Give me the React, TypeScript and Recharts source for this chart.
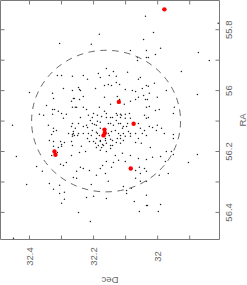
import React from 'react';
import { ScatterChart, Scatter, XAxis, YAxis, Label, ReferenceArea, ReferenceLine } from 'recharts';

// Axis domains (Dec increases to the left, RA increases downward)
const DEC_DOMAIN: [number, number] = [31.807, 32.4905];
const RA_DOMAIN: [number, number] = [55.704, 56.489];
const decTicks = [31.9, 32.0, 32.1, 32.2, 32.3, 32.4];
const decLabelTicks = [32.4, 32.2, 32.0];
const raTicks = [55.8, 55.9, 56.0, 56.1, 56.2, 56.3, 56.4];
const raLabelTicks = [55.8, 56.0, 56.2, 56.4];

// Field stars: [Dec, RA]
const fieldStars: [number, number][] = [
  [32.306, 55.845], [32.313, 55.95], [32.3, 55.95], [32.266, 55.953], [32.4, 56.006],
  [32.294, 55.993], [32.266, 56.0], [32.328, 56.009], [32.325, 56.026], [32.269, 56.035],
  [32.26, 56.026], [32.347, 56.049], [32.328, 56.062], [32.322, 56.062], [32.31, 56.068],
  [32.266, 56.055], [32.257, 56.055], [32.369, 56.078], [32.356, 56.081], [32.328, 56.078],
  [32.3, 56.075], [32.285, 56.078], [32.294, 56.091], [32.038, 55.756], [32.182, 55.815],
  [32.044, 55.832], [32.207, 55.848], [32.085, 55.868], [32.035, 55.868], [32.063, 55.901],
  [32.063, 55.891], [32.035, 55.891], [32.185, 55.944], [32.16, 55.927], [32.138, 55.937],
  [32.094, 55.94], [32.232, 55.95], [32.219, 55.963], [32.179, 55.957], [32.151, 55.95],
  [32.129, 55.953], [32.06, 55.963], [32.054, 55.957], [32.247, 55.99], [32.244, 55.996],
  [32.241, 56.0], [32.166, 55.983], [32.154, 55.98], [32.144, 55.983], [32.129, 55.973],
  [32.119, 55.98], [32.194, 55.993], [32.101, 55.996], [32.079, 56.0], [32.069, 56.003],
  [32.048, 55.993], [32.035, 55.983], [32.263, 56.026], [32.244, 56.029], [32.232, 56.019],
  [32.166, 56.022], [32.126, 56.019], [32.119, 56.029], [32.085, 56.035], [32.069, 56.029],
  [32.06, 56.022], [32.044, 56.016], [32.038, 56.029], [32.147, 56.045], [32.104, 56.045],
  [32.253, 56.055], [32.232, 56.055], [32.222, 56.062], [32.182, 56.055], [32.035, 56.055],
  [32.2, 56.075], [32.216, 56.081], [32.204, 56.088], [32.166, 56.068], [32.16, 56.075],
  [32.147, 56.088], [32.16, 56.088], [32.129, 56.075], [32.113, 56.081], [32.101, 56.078],
  [32.088, 56.075], [32.085, 56.091], [32.101, 56.091], [32.116, 56.088], [32.041, 56.081],
  [32.035, 56.091], [32.241, 56.088], [32.013, 55.809], [31.811, 55.779], [31.991, 55.861],
  [32.007, 55.881], [31.873, 55.875], [31.839, 55.901], [32.029, 55.891], [31.926, 55.937],
  [32.01, 55.976], [32.029, 55.986], [31.973, 56.0], [31.876, 56.013], [32.026, 56.009],
  [32.001, 56.022], [32.032, 56.029], [32.026, 56.052], [32.007, 56.065], [31.995, 56.062],
  [31.948, 56.055], [31.951, 56.075], [32.029, 56.088], [32.453, 56.114], [32.341, 56.114],
  [32.325, 56.124], [32.325, 56.134], [32.331, 56.144], [32.316, 56.131], [32.266, 56.108],
  [32.269, 56.118], [32.278, 56.141], [32.266, 56.144], [32.263, 56.141], [32.26, 56.147],
  [32.266, 56.15], [32.338, 56.164], [32.325, 56.167], [32.303, 56.167], [32.291, 56.17],
  [32.269, 56.167], [32.3, 56.177], [32.3, 56.183], [32.266, 56.18], [32.325, 56.183],
  [32.31, 56.187], [32.313, 56.203], [32.331, 56.213], [32.269, 56.213], [32.441, 56.216],
  [32.378, 56.249], [32.36, 56.265], [32.303, 56.242], [32.294, 56.246], [32.285, 56.236],
  [32.263, 56.285], [32.409, 56.308], [32.338, 56.305], [32.325, 56.324], [32.306, 56.311],
  [32.291, 56.334], [32.306, 56.338], [32.291, 56.357], [32.3, 56.37], [32.45, 56.485],
  [32.247, 56.108], [32.257, 56.124], [32.263, 56.134], [32.247, 56.141], [32.25, 56.147],
  [32.232, 56.118], [32.222, 56.114], [32.21, 56.098], [32.197, 56.111], [32.188, 56.101],
  [32.204, 56.131], [32.191, 56.137], [32.179, 56.124], [32.182, 56.147], [32.216, 56.141],
  [32.207, 56.147], [32.219, 56.157], [32.2, 56.167], [32.213, 56.167], [32.191, 56.157],
  [32.179, 56.167], [32.172, 56.177], [32.185, 56.18], [32.191, 56.187], [32.179, 56.196],
  [32.175, 56.187], [32.163, 56.164], [32.16, 56.173], [32.147, 56.16], [32.151, 56.147],
  [32.144, 56.134], [32.138, 56.114], [32.147, 56.108], [32.129, 56.098], [32.116, 56.108],
  [32.132, 56.131], [32.122, 56.141], [32.11, 56.124], [32.107, 56.141], [32.097, 56.118],
  [32.091, 56.134], [32.101, 56.15], [32.085, 56.15], [32.116, 56.157], [32.129, 56.17],
  [32.141, 56.18], [32.147, 56.19], [32.16, 56.2], [32.06, 56.108], [32.054, 56.124],
  [32.041, 56.131], [32.048, 56.141], [32.035, 56.147], [32.06, 56.157], [32.069, 56.17],
  [32.051, 56.173], [32.069, 56.141], [32.238, 56.183], [32.225, 56.2], [32.244, 56.203],
  [32.11, 56.206], [32.085, 56.213], [32.132, 56.213], [32.16, 56.233], [32.138, 56.236],
  [32.122, 56.229], [32.101, 56.233], [32.06, 56.223], [32.035, 56.226], [32.241, 56.252],
  [32.253, 56.265], [32.232, 56.256], [32.213, 56.262], [32.179, 56.256], [32.172, 56.246],
  [32.144, 56.252], [32.163, 56.272], [32.191, 56.278], [32.154, 56.298], [32.069, 56.262],
  [32.057, 56.252], [32.041, 56.256], [32.054, 56.272], [32.035, 56.265], [32.069, 56.288],
  [32.054, 56.298], [32.035, 56.298], [32.253, 56.288], [32.207, 56.308], [32.107, 56.315],
  [32.097, 56.328], [32.082, 56.321], [32.222, 56.351], [32.2, 56.347], [32.16, 56.354],
  [32.097, 56.338], [32.073, 56.364], [32.057, 56.397], [32.035, 56.377], [32.247, 56.4],
  [32.21, 56.43], [32.026, 56.118], [32.016, 56.121], [32.001, 56.114], [31.988, 56.124],
  [32.004, 56.131], [31.979, 56.141], [31.951, 56.144], [31.951, 56.157], [32.023, 56.187],
  [31.973, 56.2], [31.957, 56.2], [31.951, 56.21], [32.016, 56.219], [31.991, 56.216],
  [31.976, 56.233], [31.876, 56.21], [31.904, 56.236], [31.967, 56.272], [31.995, 56.278],
  [32.035, 56.344], [32.032, 56.377], [31.991, 56.374], [31.998, 56.397], [32.188, 56.081],
  [32.175, 56.085], [32.141, 56.088], [32.126, 56.081], [32.116, 56.078], [32.219, 56.121],
  [32.204, 56.108], [32.191, 56.114], [32.179, 56.104], [32.154, 56.108], [32.122, 56.108],
  [32.107, 56.118], [32.094, 56.108], [32.232, 56.141], [32.188, 56.141], [32.154, 56.141],
  [32.116, 56.147], [32.085, 56.141], [32.179, 56.164], [32.163, 56.157], [32.141, 56.164],
  [32.126, 56.157], [32.107, 56.164], [32.194, 56.173], [32.169, 56.18], [32.147, 56.18],
  [32.116, 56.173],
];

// Highlighted members: [Dec, RA]
const members: [number, number][] = [
  [31.979, 55.733], [32.121, 56.037], [32.075, 56.109], [32.166, 56.128], [32.165, 56.139],
  [32.169, 56.147], [32.322, 56.2], [32.319, 56.211], [32.084, 56.256],
];

// Dashed circle: centre [Dec, RA] and radius (deg)
const circleCenter: [number, number] = [32.161, 56.1];
const circleRadius = 0.2325;

const toPts = (arr: [number, number][]) => arr.map(([dec, ra]) => ({ dec, ra }));
const starData = toPts(fieldStars);
const memberData = toPts(members);
const ringData = toPts([circleCenter]);

const W = 247;
const H = 285;
const M_TOP = 0.5;
const M_LEFT = 0.5;
const BOTTOM_AXIS_H = 45.5;
const RIGHT_AXIS_W = 27.5;
const PLOT_W = W - M_LEFT - RIGHT_AXIS_W;
const PLOT_H = H - M_TOP - BOTTOM_AXIS_H;

const AXIS = '#7a7a7a';
const TEXT = '#666';
const FONT = '"Liberation Sans", Arial, Helvetica, sans-serif';
const FS = 9.5;
const TL = 4; // tick length, px
const DEC_PER_PX = (DEC_DOMAIN[1] - DEC_DOMAIN[0]) / PLOT_W;
const RA_PER_PX = (RA_DOMAIN[1] - RA_DOMAIN[0]) / PLOT_H;

const isLabeled = (list: number[], v: number) => list.some((t) => Math.abs(t - v) < 1e-6);

const BottomTick = (p: any) => {
  const { x, y, payload } = p;
  const v = payload.value;
  if (!isLabeled(decLabelTicks, v)) return <g />;
  return (
    <text transform={`translate(${x + 3.4},${y + 17}) rotate(-90)`} textAnchor="middle" fontSize={FS} fill={TEXT} fontFamily={FONT}>
      {String(v)}
    </text>
  );
};
const RightTick = (p: any) => {
  const { x, y, payload } = p;
  const v = payload.value;
  if (!isLabeled(raLabelTicks, v)) return <g />;
  return (
    <text transform={`translate(${x + 12.5},${y}) rotate(-90)`} textAnchor="middle" fontSize={FS} fill={TEXT} fontFamily={FONT}>
      {String(v)}
    </text>
  );
};

const StarDot = (p: any) => <circle cx={p.cx} cy={p.cy} r={0.75} fill="#222" />;
const MemberDot = (p: any) => <circle cx={p.cx} cy={p.cy} r={2.2} fill="#ff0000" />;
const Ring = (p: any) => (
  <ellipse cx={p.cx} cy={p.cy}
    rx={circleRadius / DEC_PER_PX}
    ry={circleRadius / RA_PER_PX}
    fill="none" stroke="#6a6a6a" strokeWidth={1} strokeDasharray="6.5 5.5" />
);

export default function App() {
  const ids = { xAxisId: 'b', yAxisId: 'r' } as const;
  return (
    <div style={{ position: 'absolute', left: 0, top: 0, width: W, height: H, background: '#fff' }}>
      <ScatterChart width={W} height={H} margin={{ top: M_TOP, left: M_LEFT, right: 0, bottom: 0 }}>
        <XAxis xAxisId="b" type="number" dataKey="dec" domain={DEC_DOMAIN} allowDataOverflow reversed ticks={decTicks} interval={0}
          orientation="bottom" height={BOTTOM_AXIS_H} axisLine={false} tickLine={false} tickSize={0} tickMargin={0} tick={BottomTick}>
          <Label content={(lp: any) => {
            const vb = lp.viewBox;
            return (<text transform={`translate(${vb.x + vb.width / 2},${vb.y + 37.2}) rotate(180)`} textAnchor="middle" fontSize={FS} fill={TEXT} fontFamily={FONT}>Dec</text>);
          }} />
        </XAxis>
        <YAxis yAxisId="r" type="number" dataKey="ra" domain={RA_DOMAIN} allowDataOverflow reversed ticks={raTicks} interval={0}
          orientation="right" width={RIGHT_AXIS_W} axisLine={false} tickLine={false} tickSize={0} tickMargin={0} tick={RightTick}>
          <Label content={(lp: any) => {
            const vb = lp.viewBox;
            return (<text transform={`translate(${vb.x + 26.8},${vb.y + vb.height / 2}) rotate(-90)`} textAnchor="middle" fontSize={FS} fill={TEXT} fontFamily={FONT}>RA</text>);
          }} />
        </YAxis>
        {decTicks.map((v) => (
          <ReferenceLine key={`tb${v}`} {...ids} ifOverflow="visible" stroke={AXIS}
            segment={[{ x: v, y: RA_DOMAIN[1] }, { x: v, y: RA_DOMAIN[1] - TL * RA_PER_PX }]} />
        ))}
        {decTicks.map((v) => (
          <ReferenceLine key={`tt${v}`} {...ids} ifOverflow="visible" stroke={AXIS}
            segment={[{ x: v, y: RA_DOMAIN[0] }, { x: v, y: RA_DOMAIN[0] + TL * RA_PER_PX }]} />
        ))}
        {raTicks.map((v) => (
          <ReferenceLine key={`tl${v}`} {...ids} ifOverflow="visible" stroke={AXIS}
            segment={[{ x: DEC_DOMAIN[1], y: v }, { x: DEC_DOMAIN[1] - TL * DEC_PER_PX, y: v }]} />
        ))}
        {raTicks.map((v) => (
          <ReferenceLine key={`tr${v}`} {...ids} ifOverflow="visible" stroke={AXIS}
            segment={[{ x: DEC_DOMAIN[0], y: v }, { x: DEC_DOMAIN[0] + TL * DEC_PER_PX, y: v }]} />
        ))}
        <ReferenceArea {...ids} x1={DEC_DOMAIN[0]} x2={DEC_DOMAIN[1]} y1={RA_DOMAIN[0]} y2={RA_DOMAIN[1]}
          ifOverflow="visible" fill="none" fillOpacity={0} stroke={AXIS} strokeWidth={1} />
        <Scatter {...ids} data={starData} shape={StarDot} isAnimationActive={false} />
        <Scatter {...ids} data={ringData} shape={Ring} isAnimationActive={false} />
        <Scatter {...ids} data={memberData} shape={MemberDot} isAnimationActive={false} />
      </ScatterChart>
    </div>
  );
}
